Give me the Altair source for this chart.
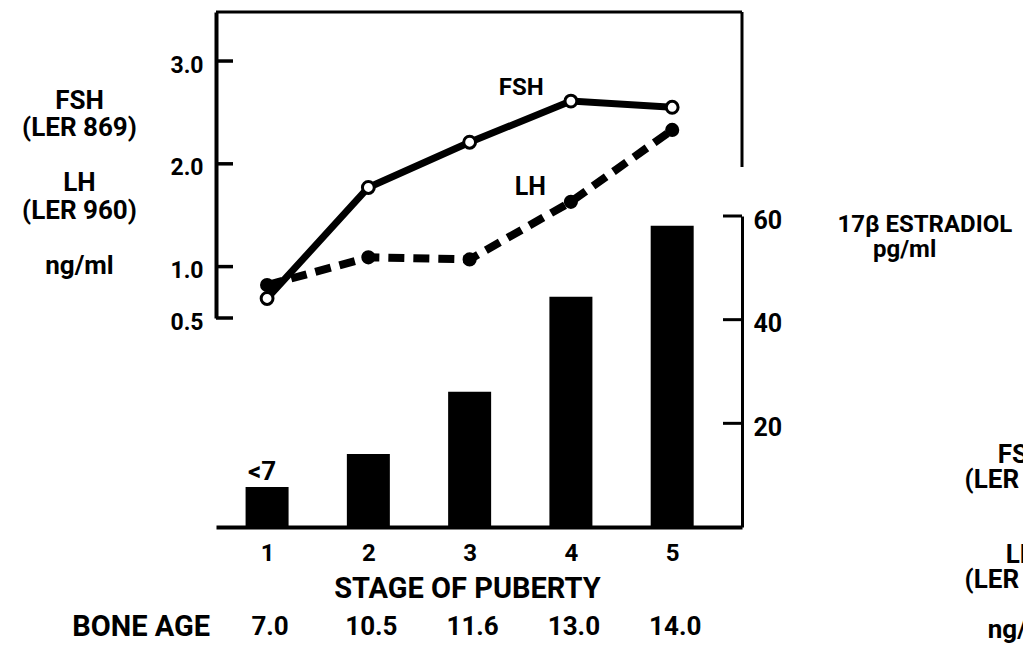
import altair as alt
import pandas as pd

# ---- data ----
stages = [1, 2, 3, 4, 5]
bone_age = ["7.0", "10.5", "11.6", "13.0", "14.0"]
fsh = [0.69, 1.77, 2.21, 2.61, 2.55]
lh = [0.82, 1.09, 1.07, 1.63, 2.33]
estradiol = [7.7, 14.1, 26.1, 44.4, 58.1]
bar_notes = ["<7", "", "", "", ""]
hormone_ticks = [0.5, 1.0, 2.0, 3.0]
estradiol_ticks = [20, 40, 60]

FONT = "Roboto"
BOLD = "bold"
W, H = 526, 515
BLANK = "\u200b"

df = pd.DataFrame({"stage": stages, "fsh": fsh, "lh": lh, "e2": estradiol,
                   "note": bar_notes, "bone": bone_age})
one = pd.DataFrame({"a": [0]})

x_scale = alt.Scale(domain=[0.545, 5.64], nice=False, zero=False)
h_scale = alt.Scale(domain=[0.5, 3.477], range=[306, 0], nice=False, zero=False)
e_scale = alt.Scale(domain=[0, 60], range=[515, 204], nice=False, zero=False)

x_axis = alt.Axis(values=stages, format="d", ticks=False, grid=False,
                  domainWidth=4, domainColor="black",
                  labelFont=FONT, labelFontSize=24, labelFontWeight=BOLD,
                  labelColor="black", labelPadding=14,
                  title="STAGE OF PUBERTY", titleFont=FONT, titleFontSize=29,
                  titleFontWeight=BOLD, titleColor="black",
                  titleX=251, titleY=70, titleBaseline="alphabetic", titleAlign="center")

h_axis = alt.Axis(orient="left", values=hormone_ticks, format=".1f", ticks=False, grid=False,
                  domainWidth=4, domainColor="black",
                  labelFont=FONT, labelFontSize=23, labelFontWeight=BOLD, labelColor="black",
                  labelPadding=13, labelOffset=4,
                  title=["FSH", "(LER 869)", BLANK, "LH", "(LER 960)", BLANK, "ng/ml"],
                  titleFont=FONT, titleFontSize=26, titleFontWeight=BOLD, titleColor="black",
                  titleAngle=0, titleAlign="center", titleBaseline="top",
                  titleX=-137, titleY=75, titleLineHeight=27.5)

e_axis = alt.Axis(orient="right", values=estradiol_ticks, format="d", ticks=False, grid=False,
                  domainWidth=3, domainColor="black",
                  labelFont=FONT, labelFontSize=25, labelFontWeight=BOLD, labelColor="black",
                  labelPadding=11, labelOffset=4,
                  title="17β ESTRADIOL",
                  titleFont=FONT, titleFontSize=24, titleFontWeight=BOLD, titleColor="black",
                  titleAngle=0, titleAlign="left", titleBaseline="top",
                  titleX=95, titleY=200)

X = alt.X("stage:Q", scale=x_scale, axis=x_axis)

# ---- hormone layers (left axis) ----
lh_line = alt.Chart(df).mark_line(color="black", strokeWidth=8, strokeDash=[16, 9]).encode(
    x=X, y=alt.Y("lh:Q", scale=h_scale, axis=h_axis))
lh_pts = alt.Chart(df).mark_circle(color="black", size=200, opacity=1).encode(
    x=X, y=alt.Y("lh:Q", scale=h_scale, axis=h_axis))
fsh_line = alt.Chart(df).mark_line(color="black", strokeWidth=7).encode(
    x=X, y=alt.Y("fsh:Q", scale=h_scale, axis=h_axis))
fsh_pts = alt.Chart(df).mark_point(shape="circle", filled=True, fill="white", stroke="black",
                                   strokeWidth=3, size=140, opacity=1).encode(
    x=X, y=alt.Y("fsh:Q", scale=h_scale, axis=h_axis))

h_tick_rules = alt.Chart(pd.DataFrame({"v": hormone_ticks})).mark_rule(
    color="black", strokeWidth=3.5).encode(
    y=alt.Y("v:Q", scale=h_scale, axis=h_axis), x=alt.value(0), x2=alt.value(17))

fsh_label = alt.Chart(one).mark_text(text="FSH", font=FONT, fontSize=24, fontWeight=BOLD,
                                     color="black", baseline="middle").encode(
    x=alt.X(datum=3.51, scale=x_scale, axis=x_axis),
    y=alt.Y(datum=2.74, scale=h_scale, axis=h_axis))
lh_label = alt.Chart(one).mark_text(text="LH", font=FONT, fontSize=25, fontWeight=BOLD,
                                    color="black", baseline="middle").encode(
    x=alt.X(datum=3.6, scale=x_scale, axis=x_axis),
    y=alt.Y(datum=1.77, scale=h_scale, axis=h_axis))

top_line = alt.Chart(one).mark_rule(color="black", strokeWidth=3).encode(
    x=alt.value(0), x2=alt.value(W), y=alt.value(0))
right_top_line = alt.Chart(one).mark_rule(color="black", strokeWidth=3).encode(
    x=alt.value(W), y=alt.value(0), y2=alt.value(155))

bone_label = alt.Chart(one).mark_text(text="BONE AGE", font=FONT, fontSize=29, fontWeight=BOLD,
                                      color="black", align="right", baseline="middle").encode(
    x=alt.value(-6), y=alt.value(615))
bone_vals = alt.Chart(df).mark_text(font=FONT, fontSize=26, fontWeight=BOLD, color="black",
                                    baseline="middle", dx=3).encode(
    x=X, y=alt.value(615), text="bone:N")

e_unit = alt.Chart(one).mark_text(text="pg/ml", font=FONT, fontSize=24, fontWeight=BOLD,
                                  color="black", align="left", baseline="middle").encode(
    x=alt.value(W + 131), y=alt.value(238))

# labels of the next panel, cut off at the right edge of the reference
cut_text = alt.Chart(one).mark_text(
    text=["FSH", "(LER 869)", BLANK, BLANK, "LH", "(LER 960)", BLANK, "ng/ml"],
    font=FONT, fontSize=26, fontWeight=BOLD, color="black", align="center", baseline="top",
    lineHeight=25).encode(x=alt.value(806), y=alt.value(430))

hormone = alt.layer(lh_line, lh_pts, fsh_line, fsh_pts, h_tick_rules, fsh_label, lh_label,
                    top_line, right_top_line, bone_label, bone_vals, e_unit, cut_text)

# ---- estradiol layers (right axis) ----
bars = alt.Chart(df).mark_bar(color="black", size=43).encode(
    x=X, y=alt.Y("e2:Q", scale=e_scale, axis=e_axis))
notes = alt.Chart(df).transform_filter("datum.note != ''").mark_text(
    font=FONT, fontSize=26, fontWeight=BOLD, color="black",
    baseline="middle", dx=-5, dy=-15).encode(
    x=X, y=alt.Y("e2:Q", scale=e_scale, axis=e_axis), text="note:N")
e_tick_rules = alt.Chart(pd.DataFrame({"v": estradiol_ticks})).mark_rule(
    color="black", strokeWidth=3).encode(
    y=alt.Y("v:Q", scale=e_scale, axis=e_axis), x=alt.value(W - 19), x2=alt.value(W))

estr = alt.layer(bars, notes, e_tick_rules)

chart = alt.layer(estr, hormone).resolve_scale(y="independent").properties(
    width=W, height=H,
    autosize=alt.AutoSizeParams(type="none"),
    padding={"left": 216, "top": 12, "right": 281, "bottom": 118},
    background="white",
).configure_view(stroke=None).configure_axis(grid=False)

chart.save("out.html", embed_options={"renderer": "svg", "actions": False})
